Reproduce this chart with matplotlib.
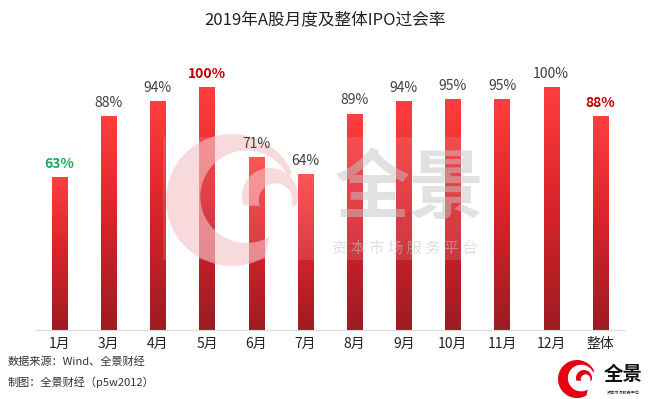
import numpy as np
import matplotlib
matplotlib.use("Agg")
import matplotlib.pyplot as plt
from matplotlib.colors import LinearSegmentedColormap
from matplotlib.patches import Polygon, Rectangle

plt.rcParams['font.family'] = ['Noto Sans CJK SC', 'DejaVu Sans']

months = ['1月', '3月', '4月', '5月', '6月', '7月', '8月', '9月', '10月', '11月', '12月', '整体']
rates = [63, 88, 94, 100, 71, 64, 89, 94, 95, 95, 100, 88]
label_colors = ['#1aa95b', '#404040', '#404040', '#c00000', '#404040', '#404040',
                '#404040', '#404040', '#404040', '#404040', '#404040', '#c00000']
label_bold = [True, False, False, True, False, False, False, False, False, False, False, True]

W, H = 650, 399
fig = plt.figure(figsize=(6.5, 3.99), dpi=100)
fig.patch.set_facecolor('white')

rect = [35 / W, 1 - 330 / H, 590 / W, 270 / H]
ax = fig.add_axes(rect)
x = np.arange(len(months))
bars = ax.bar(x, rates, width=0.31, color='none', zorder=2)

cmap = LinearSegmentedColormap.from_list('bar', ['#9c1c22', '#d8232a', '#ff3e3e'])
grad = np.linspace(0, 1, 256).reshape(-1, 1)
for b in bars:
    x0, y0 = b.get_x(), b.get_y()
    im = ax.imshow(grad, cmap=cmap, origin='lower', aspect='auto', zorder=2,
                   extent=[x0, x0 + b.get_width(), y0, y0 + b.get_height()])
    im.set_clip_path(b)

ax.set_xlim(-0.5, len(months) - 0.5)
ax.set_ylim(0, 111)
ax.set_xticks(x)
ax.set_xticklabels(months, fontsize=10, color='#222222')
ax.tick_params(axis='x', length=0, pad=5)
ax.set_yticks([])
for s in ['top', 'left', 'right']:
    ax.spines[s].set_visible(False)
ax.spines['bottom'].set_color('#d9d9d9')
ax.spines['bottom'].set_linewidth(0.8)

fig.text(0.5, 1 - 20 / H, '2019年A股月度及整体IPO过会率', ha='center', va='center',
         fontsize=12, color='#222222')
fig.text(8 / W, 1 - 362 / H, '数据来源：Wind、全景财经', ha='left', va='center',
         fontsize=8, color='#333333')
fig.text(8 / W, 1 - 382 / H, '制图：全景财经（p5w2012）', ha='left', va='center',
         fontsize=8, color='#333333')

# overlay in pixel coordinates for watermark and logo
ov = fig.add_axes([0, 0, 1, 1], facecolor='none')
ov.set_xlim(0, W)
ov.set_ylim(H, 0)
ov.axis('off')


def crescent(cx, cy, r):
    t1 = np.radians(np.linspace(25, 300, 80))
    t2 = t1[::-1]
    outer = np.column_stack([cx + r * np.cos(t1), cy - r * np.sin(t1)])
    inner = np.column_stack([cx + 0.22 * r + 0.7 * r * np.cos(t2),
                             cy - 0.05 * r - 0.7 * r * np.sin(t2)])
    return np.vstack([outer, inner])


def curl(cx, cy, r):
    t1 = np.radians(np.linspace(-20, 200, 50))
    t2 = t1[::-1]
    outer = np.column_stack([cx + r * np.cos(t1), cy - r * np.sin(t1)])
    inner = np.column_stack([cx + 0.2 * r + 0.6 * r * np.cos(t2),
                             cy + 0.15 * r - 0.6 * r * np.sin(t2)])
    return np.vstack([outer, inner])


ov.add_patch(Rectangle((163, 137), 330, 123, fc='white', ec='none', alpha=0.12, zorder=4))
ov.add_patch(Polygon(crescent(232, 200, 66), closed=True, fc='#f6c2c6', ec='none',
                     alpha=0.6, zorder=5))
ov.add_patch(Polygon(curl(270, 196, 28), closed=True, fc='#f6c2c6', ec='none',
                     alpha=0.6, zorder=5))
ov.text(410, 190, '全景', ha='center', va='center', fontsize=54, fontweight='bold',
        color='#c4c4c4', alpha=0.5, zorder=5)
ov.text(405, 248, '资 本 市 场 服 务 平 台', ha='center', va='center', fontsize=11,
        color='#c4c4c4', alpha=0.55, zorder=5)

ov.add_patch(Polygon(crescent(577, 379, 19), closed=True, fc='#e60012', ec='none', zorder=5))
ov.add_patch(Polygon(curl(584, 378, 8), closed=True, fc='#e60012', ec='none', zorder=5))
ov.text(623, 374, '全景', ha='center', va='center', fontsize=14, fontweight='bold',
        color='#111111', zorder=5)
ov.text(623, 392, '资本市场服务平台', ha='center', va='center', fontsize=3,
        color='#333333', zorder=5)

# value labels on top of the watermark
lab = fig.add_axes(rect, sharex=ax, sharey=ax, facecolor='none')
lab.axis('off')
for xi, v, c, bold in zip(x, rates, label_colors, label_bold):
    lab.text(xi, v + 2.5, f'{v}%', ha='center', va='bottom', color=c,
             fontsize=10, fontweight='bold' if bold else 'normal')

fig.savefig('out.png', dpi=100, facecolor='white')
